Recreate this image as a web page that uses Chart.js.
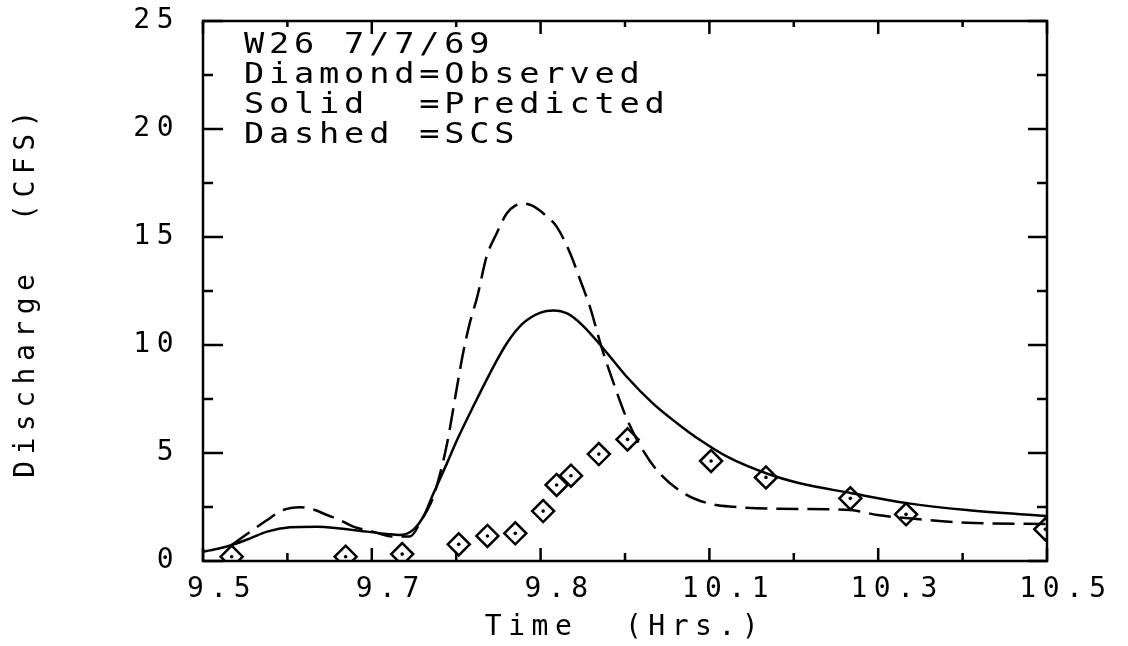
<!DOCTYPE html>
<html>
<head>
<meta charset="utf-8">
<script src="https://cdn.jsdelivr.net/npm/chart.js@4.4.1/dist/chart.umd.min.js"></script>
<style>
    html, body { margin: 0; padding: 0; background: #fff; }
</style>
</head>
<body>
<canvas id="hidrograma" width="1128" height="646"></canvas>
<script>
// Predicted (solid)
var predX = [9.500, 9.520, 9.534, 9.556, 9.576, 9.603, 9.635, 9.662, 9.694, 9.718, 9.733, 9.749, 9.761, 9.773, 9.789, 9.801, 9.820, 9.840, 9.860, 9.879, 9.900, 9.915, 9.932, 9.950, 9.974, 10.002, 10.033, 10.062, 10.089, 10.121, 10.168, 10.207, 10.267, 10.334, 10.405, 10.500];
var predY = [0.43, 0.59, 0.74, 1.05, 1.36, 1.56, 1.59, 1.51, 1.36, 1.25, 1.20, 1.44, 2.05, 3.13, 4.52, 5.60, 7.14, 8.69, 10.08, 11.00, 11.50, 11.60, 11.45, 10.90, 9.85, 8.53, 7.30, 6.37, 5.60, 4.83, 4.05, 3.60, 3.15, 2.68, 2.36, 2.08];

// SCS (dashed)
var scsX = [9.534, 9.576, 9.595, 9.615, 9.630, 9.647, 9.662, 9.678, 9.701, 9.725, 9.745, 9.759, 9.773, 9.781, 9.789, 9.801, 9.808, 9.816, 9.825, 9.836, 9.848, 9.860, 9.870, 9.880, 9.890, 9.903, 9.919, 9.935, 9.947, 9.959, 9.972, 9.988, 10.002, 10.021, 10.041, 10.073, 10.101, 10.128, 10.180, 10.267, 10.299, 10.346, 10.405, 10.500];
var scsY = [0.74, 1.90, 2.36, 2.49, 2.39, 2.13, 1.90, 1.59, 1.36, 1.13, 1.13, 1.90, 2.98, 4.06, 5.40, 8.07, 9.60, 11.00, 12.24, 14.09, 15.17, 16.10, 16.45, 16.55, 16.45, 16.10, 15.48, 14.25, 13.00, 11.70, 9.92, 8.07, 6.60, 5.14, 4.06, 3.06, 2.65, 2.51, 2.42, 2.36, 2.13, 1.94, 1.77, 1.71];

// Observed (diamonds)
var obsX = [9.534, 9.669, 9.736, 9.803, 9.837, 9.870, 9.903, 9.919, 9.936, 9.969, 10.003, 10.102, 10.167, 10.267, 10.333, 10.498];
var obsY = [0.20, 0.20, 0.32, 0.77, 1.16, 1.28, 2.31, 3.52, 3.95, 4.95, 5.63, 4.63, 3.87, 2.90, 2.16, 1.47];

var xTickLabels = ['9.5', '9.7', '9.8', '10.1', '10.3', '10.5'];
var legendLines = ['W26 7/7/69', 'Diamond=Observed', 'Solid  =Predicted', 'Dashed =SCS'];

function pares(xs, ys) {
    return xs.map(function (x, i) { return { x: x, y: ys[i] }; });
}

Chart.defaults.font.family = '"DejaVu Sans Mono", monospace';
Chart.defaults.font.size = 28;
Chart.defaults.color = '#000';

const molduraPlugin = {
    id: 'moldura',
    beforeDraw(chart) {
        chart.ctx.letterSpacing = '6.5px';
    },
    afterDraw(chart) {
        const ctx = chart.ctx;
        const a = chart.chartArea;
        const sx = chart.scales.x;
        const sy = chart.scales.y;
        ctx.save();
        ctx.strokeStyle = '#000';
        ctx.lineWidth = 2.5;
        ctx.strokeRect(a.left, a.top, a.right - a.left, a.bottom - a.top);

        ctx.beginPath();
        // x ticks (major + minor in between), bottom and top
        sx.ticks.forEach(function (t, i) {
            var p = sx.getPixelForValue(t.value);
            ctx.moveTo(p, a.bottom); ctx.lineTo(p, a.bottom - 13);
            ctx.moveTo(p, a.top); ctx.lineTo(p, a.top + 13);
            if (i < sx.ticks.length - 1) {
                var m = sx.getPixelForValue((t.value + sx.ticks[i + 1].value) / 2);
                ctx.moveTo(m, a.bottom); ctx.lineTo(m, a.bottom - 8);
                ctx.moveTo(m, a.top); ctx.lineTo(m, a.top + 6);
            }
        });
        // y ticks, left and right
        sy.ticks.forEach(function (t, i) {
            var p = sy.getPixelForValue(t.value);
            ctx.moveTo(a.left, p); ctx.lineTo(a.left + 20, p);
            ctx.moveTo(a.right, p); ctx.lineTo(a.right - 19, p);
            if (i < sy.ticks.length - 1) {
                var m = sy.getPixelForValue((t.value + sy.ticks[i + 1].value) / 2);
                ctx.moveTo(a.left, m); ctx.lineTo(a.left + 10, m);
                ctx.moveTo(a.right, m); ctx.lineTo(a.right - 10, m);
            }
        });
        ctx.stroke();

        // legend text inside the frame (plotter lettering is wider)
        ctx.fillStyle = '#000';
        ctx.font = '28px "DejaVu Sans Mono", monospace';
        ctx.letterSpacing = '4px';
        ctx.textAlign = 'left';
        ctx.textBaseline = 'alphabetic';
        ctx.translate(244, 0);
        ctx.scale(1.2, 1);
        legendLines.forEach(function (linha, i) {
            ctx.fillText(linha, 0, 53 + i * 30);
        });
        ctx.restore();
    }
};

const configHidro = {
    type: 'line',
    data: {
        datasets: [{
            label: 'Predicted',
            data: pares(predX, predY),
            borderColor: '#000',
            borderWidth: 2.5,
            pointRadius: 0,
            cubicInterpolationMode: 'monotone',
            fill: false
        }, {
            label: 'SCS',
            data: pares(scsX, scsY),
            borderColor: '#000',
            borderWidth: 2.5,
            borderDash: [22, 9],
            pointRadius: 0,
            cubicInterpolationMode: 'monotone',
            fill: false
        }, {
            label: 'Observed',
            data: pares(obsX, obsY),
            showLine: false,
            pointStyle: 'rectRot',
            pointRadius: 11,
            pointBorderWidth: 2.5,
            pointBorderColor: '#000',
            pointBackgroundColor: 'rgba(0,0,0,0)',
            clip: 0
        }, {
            label: 'Observed centre',
            data: pares(obsX, obsY),
            showLine: false,
            pointStyle: 'circle',
            pointRadius: 1.8,
            pointBorderWidth: 0,
            pointBackgroundColor: '#000',
            clip: 0
        }]
    },
    options: {
        responsive: false,
        animation: false,
        layout: {
            padding: { left: 0, right: 81, top: 21, bottom: 0 }
        },
        plugins: {
            legend: { display: false },
            tooltip: { enabled: false }
        },
        scales: {
            x: {
                type: 'linear',
                min: 9.5,
                max: 10.5,
                grid: { display: false, drawTicks: false },
                border: { display: false },
                ticks: {
                    stepSize: 0.2,
                    padding: 12,
                    labelOffset: 19,
                    maxRotation: 0,
                    autoSkip: false,
                    callback: function (value, index) { return xTickLabels[index]; }
                },
                title: {
                    display: true,
                    text: 'Time  (Hrs.)',
                    padding: { top: 0, bottom: 1 }
                },
                afterFit: function (scale) {
                    scale.height = 85;
                    scale.paddingLeft = 0;
                    scale.paddingRight = 0;
                }
            },
            y: {
                min: 0,
                max: 25,
                grid: { display: false, drawTicks: false },
                border: { display: false },
                ticks: { stepSize: 5, padding: 23 },
                title: {
                    display: true,
                    text: 'Discharge  (CFS)',
                    padding: { top: 10, bottom: 0 }
                },
                afterFit: function (scale) {
                    scale.width = 203;
                    scale.paddingTop = 0;
                    scale.paddingBottom = 0;
                }
            }
        }
    },
    plugins: [molduraPlugin]
};

var hidroChart = new Chart(document.getElementById('hidrograma'), configHidro);
</script>
</body>
</html>
